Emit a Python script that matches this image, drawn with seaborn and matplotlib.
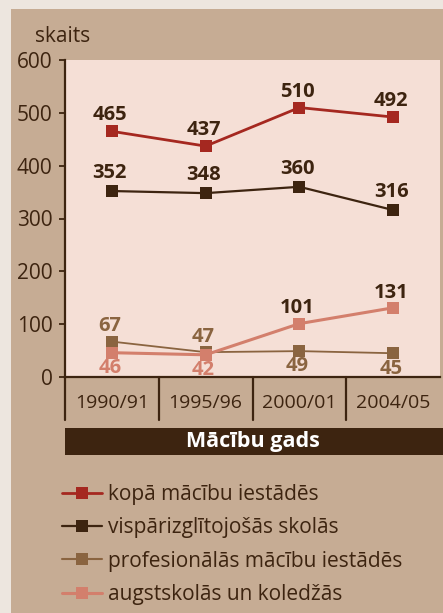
import matplotlib
matplotlib.use("Agg")
import matplotlib.pyplot as plt
from matplotlib.patches import Rectangle
from matplotlib.lines import Line2D
import seaborn as sns
import pandas as pd

# ---- data ----
years = ["1990/91", "1995/96", "2000/01", "2004/05"]
series_names = ["kopā mācību iestādēs", "vispārizglītojošās skolās",
                "profesionālās mācību iestādēs", "augstskolās un koledžās"]
kopa = [465, 437, 510, 492]
vispar = [352, 348, 360, 316]
profes = [67, 47, 49, 45]
augst = [46, 42, 101, 131]
y_ticks = [0, 100, 200, 300, 400, 500, 600]
x_title = "Mācību gads"
y_title = "skaits"

# ---- style ----
BG_OUT = "#EDE6DF"
TAN = "#C6AC94"
PINK = "#F5DFD6"
DARK = "#3D2410"
colors = ["#A52820", "#3D2410", "#8A6440", "#D37F6C"]
lws = [2.0, 1.6, 1.3, 2.2]
label_offsets = [11.5, 13, 11, 11]
# label side (+1 above, -1 below) and label colour per point
sides = [[1, 1, 1, 1], [1, 1, 1, 1], [1, 1, -1, -1], [-1, -1, 1, 1]]
lab_colors = [[DARK] * 4, [DARK] * 4, ["#8A6440"] * 4,
              ["#D37F6C", "#D37F6C", DARK, DARK]]

FONT = ["Open Sans", "DejaVu Sans"]
sns.set_theme(style="white")
plt.rcParams["font.family"] = FONT

W, H = 443, 613
fig = plt.figure(figsize=(W / 100, H / 100), dpi=100, facecolor=BG_OUT)
fig.patches.append(Rectangle((11 / W, 0), 1 - 11 / W, 1 - 9 / H,
                             transform=fig.transFigure, facecolor=TAN,
                             edgecolor="none", zorder=-10))

def fx(px):
    return px / W

def fy(py):
    return 1 - py / H

ax = fig.add_axes([fx(65), fy(377), fx(440) - fx(65), fy(60) - fy(377)])
ax.set_facecolor(PINK)

data_all = [kopa, vispar, profes, augst]
df = pd.DataFrame({
    "year": years * 4,
    "value": kopa + vispar + profes + augst,
    "series": sum([[n] * 4 for n in series_names], []),
})

for i, name in enumerate(series_names):
    sub = df[df["series"] == name]
    sns.lineplot(data=sub, x="year", y="value", color=colors[i], lw=lws[i],
                 marker="s", markersize=8.5, markeredgewidth=0,
                 ax=ax, legend=False, zorder=3 + i)

ax.set_xlim(-0.5, 3.5)
ax.set_ylim(0, 600)
ax.set_yticks(y_ticks)
ax.set_xlabel("")
ax.set_ylabel("")

for sp in ["top", "right"]:
    ax.spines[sp].set_visible(False)
for sp in ["left", "bottom"]:
    ax.spines[sp].set_color(DARK)
    ax.spines[sp].set_linewidth(1.6)

ax.tick_params(axis="y", direction="out", length=4, width=1.3, color=DARK,
               pad=5, labelsize=15, labelcolor=DARK, left=True)
ax.tick_params(axis="x", length=0, pad=12, labelsize=14, labelcolor=DARK,
               bottom=True)
for t in ax.get_yticklabels() + ax.get_xticklabels():
    t.set_fontfamily(FONT)

# category box dividers
for xd in [-0.5, 0.5, 1.5, 2.5]:
    ax.plot([xd, xd], [0, -43 / 317], transform=ax.get_xaxis_transform(),
            color=DARK, lw=1.6, clip_on=False, zorder=5)

# value labels
for i, vals in enumerate(data_all):
    for j, v in enumerate(vals):
        s = sides[i][j]
        ax.annotate(str(v), (j, v), xytext=(-1.5, s * label_offsets[i]),
                    textcoords="offset points",
                    ha="center", va="center", fontsize=14.5, fontweight="bold",
                    color=lab_colors[i][j], zorder=10)

# y title
fig.text(fx(35), fy(36), y_title, ha="left", va="center", fontsize=15, color=DARK)

# dark bar with x title
fig.patches.append(Rectangle((fx(65), fy(455)), 1 - fx(65), fy(428) - fy(455),
                             transform=fig.transFigure, facecolor=DARK,
                             edgecolor="none", zorder=1))
fig.text(fx(253), fy(441.5), x_title, ha="center", va="center", fontsize=15.5,
         fontweight="bold", color="white")

# legend
handles = [Line2D([0], [0], color=colors[i], lw=lws[i] if i != 2 else 1.5,
                  marker="s", markersize=8.5, markeredgewidth=0)
           for i in range(4)]
fig.legend(handles, series_names, loc="upper left",
           bbox_to_anchor=(fx(62), fy(484)), frameon=False, fontsize=15,
           handlelength=1.9, handletextpad=0.33, labelspacing=0.59,
           borderpad=0, borderaxespad=0, labelcolor=DARK)

fig.savefig("out.png", dpi=100, facecolor=fig.get_facecolor())
